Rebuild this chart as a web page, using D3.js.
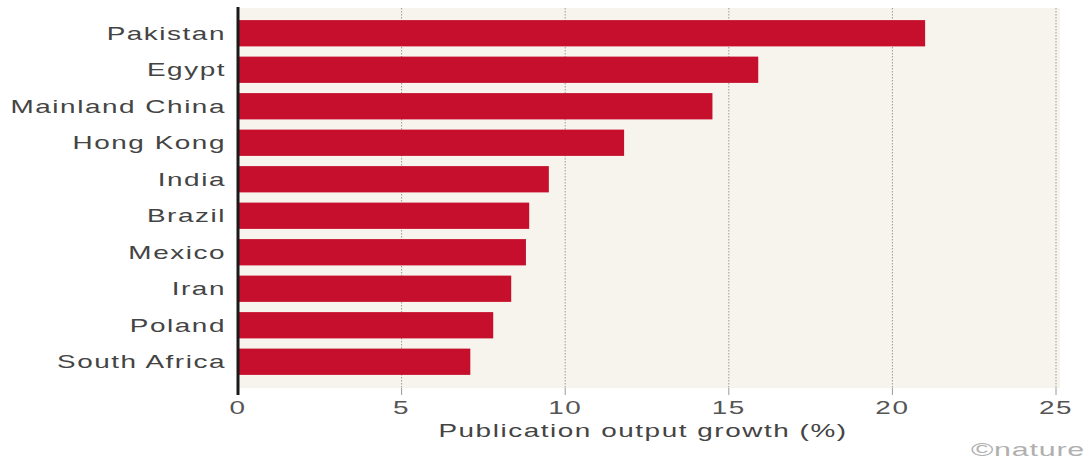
<!DOCTYPE html>
<html>
<head>
<meta charset="utf-8">
<script src="https://cdn.jsdelivr.net/npm/d3@7"></script>
<style>
  body { margin: 0; background: #fff; }
  svg { display: block; }
  text { font-family: "Liberation Sans", Arial, sans-serif; }
</style>
</head>
<body>
<svg id="chart" width="1090" height="463"></svg>
<script>
const countries = ["Pakistan", "Egypt", "Mainland China", "Hong Kong", "India",
                   "Brazil", "Mexico", "Iran", "Poland", "South Africa"];
const growth = [21.0, 15.9, 14.5, 11.8, 9.5, 8.9, 8.8, 8.35, 7.8, 7.1];
const xTicks = [0, 5, 10, 15, 20, 25];
const xTitle = "Publication output growth (%)";
const credit = "©nature";

const svg = d3.select("#chart");
const plotLeft = 238, plotRight = 1056, plotTop = 15, plotBottom = 380;
const stretch = 1.55; // extended type: glyphs are drawn horizontally widened

const x = d3.scaleLinear().domain([0, 25]).range([plotLeft, plotRight]);
const y = d3.scaleBand().domain(countries).range([plotTop, plotBottom]).paddingInner(0.28).paddingOuter(0.14);

// widened text anchored at (tx, ty)
function wideText(parent, tx, ty, str, anchor, opts) {
  const g = parent.append("g")
    .attr("transform", `translate(${tx},${ty}) scale(${opts.sx || stretch},1)`);
  return g.append("text")
    .attr("x", 0).attr("y", 0)
    .attr("dy", opts.dy || 0)
    .attr("text-anchor", anchor)
    .attr("font-size", opts.size || 18)
    .attr("letter-spacing", opts.ls == null ? 1 : opts.ls)
    .attr("fill", opts.fill || "#333")
    .attr("font-family", opts.family || null)
    .text(str);
}

// panel background
svg.append("rect")
  .attr("x", plotLeft).attr("y", 8)
  .attr("width", plotRight + 4 - plotLeft).attr("height", 380)
  .attr("fill", "#f7f4ee");

// dotted vertical gridlines
svg.append("g").selectAll("line")
  .data(xTicks.filter(d => d > 0))
  .join("line")
  .attr("x1", d => x(d)).attr("x2", d => x(d))
  .attr("y1", 8).attr("y2", 388)
  .attr("stroke", "#9a9a9a").attr("stroke-width", 1)
  .attr("stroke-dasharray", "1.5,1.5");

// tick stubs below the panel
svg.append("g").selectAll("line")
  .data(xTicks.filter(d => d > 0))
  .join("line")
  .attr("x1", d => x(d)).attr("x2", d => x(d))
  .attr("y1", 388).attr("y2", 395)
  .attr("stroke", "#9a9a9a").attr("stroke-width", 1);

// bars
svg.append("g").selectAll("rect")
  .data(countries)
  .join("rect")
  .attr("x", x(0))
  .attr("y", d => y(d))
  .attr("width", (d, i) => x(growth[i]) - x(0))
  .attr("height", y.bandwidth())
  .attr("fill", "#c60f2c");

// baseline
svg.append("line")
  .attr("x1", x(0)).attr("x2", x(0))
  .attr("y1", 7).attr("y2", 395)
  .attr("stroke", "#1a1a1a").attr("stroke-width", 3);

// category labels
const labelG = svg.append("g");
countries.forEach(c => {
  wideText(labelG, 226, y(c) + y.bandwidth() / 2, c, "end", { dy: "0.36em", fill: "#444" });
});

// x tick labels
const tickG = svg.append("g");
xTicks.forEach(t => {
  wideText(tickG, x(t), 414, String(t), "middle", { fill: "#555" });
});

// axis title
wideText(svg, 643, 437, xTitle, "middle", { fill: "#444" });

// credit
wideText(svg, 1085, 456, credit, "end",
  { family: "Liberation Serif, serif", size: 19, ls: 0.5, sx: 1.6, fill: "#b0b0b0" });
</script>
</body>
</html>
